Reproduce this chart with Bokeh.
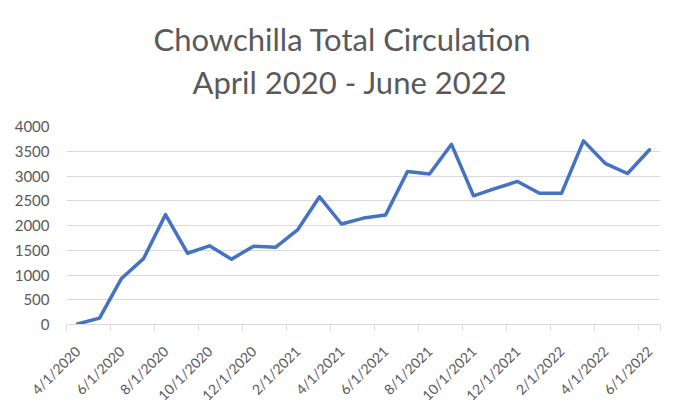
from bokeh.plotting import figure
from bokeh.models import Range1d, FixedTicker, Title, ColumnDataSource
from bokeh.embed import file_html
from bokeh.resources import INLINE
import math

months = ["4/1/2020", "5/1/2020", "6/1/2020", "7/1/2020", "8/1/2020", "9/1/2020",
          "10/1/2020", "11/1/2020", "12/1/2020", "1/1/2021", "2/1/2021", "3/1/2021",
          "4/1/2021", "5/1/2021", "6/1/2021", "7/1/2021", "8/1/2021", "9/1/2021",
          "10/1/2021", "11/1/2021", "12/1/2021", "1/1/2022", "2/1/2022", "3/1/2022",
          "4/1/2022", "5/1/2022", "6/1/2022"]
circulation = [10, 130, 930, 1330, 2220, 1440, 1590, 1320, 1580, 1560, 1910, 2580,
               2030, 2150, 2210, 3090, 3040, 3640, 2600, 2750, 2890, 2650, 2650, 3710,
               3250, 3050, 3530]
y_ticks = [0, 500, 1000, 1500, 2000, 2500, 3000, 3500, 4000]
title_lines = ["Chowchilla Total Circulation", "April 2020 - June 2022"]

idx = list(range(len(months)))
src = ColumnDataSource(dict(x=idx, y=circulation))

TXT = "#595959"
GRID = "#d9d9d9"
FONT = "Lato"

p = figure(width=676, height=412, output_backend="svg", toolbar_location=None,
           x_range=Range1d(-0.5, len(months) - 0.5), y_range=Range1d(0, 4000),
           min_border_left=66, min_border_right=16, min_border_top=126,
           min_border_bottom=88)
p.title = None
p.outline_line_color = None

p.add_layout(Title(text=title_lines[1], align="left", text_font=FONT,
                   text_font_size="31px", text_color=TXT, text_font_style="normal",
                   text_line_height=1.0, offset=126, standoff=52), "above")
p.add_layout(Title(text=title_lines[0], align="left", text_font=FONT,
                   text_font_size="31px", text_color=TXT, text_font_style="normal",
                   text_line_height=1.0, offset=87, standoff=-46), "above")

p.line("x", "y", source=src, line_width=3.5, line_color="#4472C4",
       line_join="round", line_cap="round")

# x axis
lab_idx = idx[::2]
p.xaxis.ticker = FixedTicker(ticks=lab_idx, minor_ticks=[i - 0.5 for i in lab_idx] + [len(months) - 0.5])
p.xaxis.major_label_overrides = {i: months[i] for i in lab_idx}
p.xaxis.major_label_orientation = math.pi / 4
p.xaxis.major_tick_line_color = None
p.xaxis.minor_tick_line_color = GRID
p.xaxis.minor_tick_out = 6
p.xaxis.minor_tick_in = 0
p.xaxis.axis_line_color = GRID
p.xaxis.major_label_text_font = FONT
p.xaxis.major_label_text_font_size = "14px"
p.xaxis.major_label_text_color = TXT
p.xaxis.major_label_standoff = 18

# y axis
p.yaxis.ticker = FixedTicker(ticks=y_ticks)
p.yaxis.axis_line_color = None
p.yaxis.major_tick_line_color = None
p.yaxis.minor_tick_line_color = None
p.yaxis.major_label_text_font = FONT
p.yaxis.major_label_text_font_size = "15px"
p.yaxis.major_label_text_color = TXT
p.yaxis.major_label_standoff = 11

p.xgrid.grid_line_color = None
p.ygrid.grid_line_color = GRID
p.ygrid.grid_line_width = 1

open("out.html", "w").write(file_html(p, INLINE))
